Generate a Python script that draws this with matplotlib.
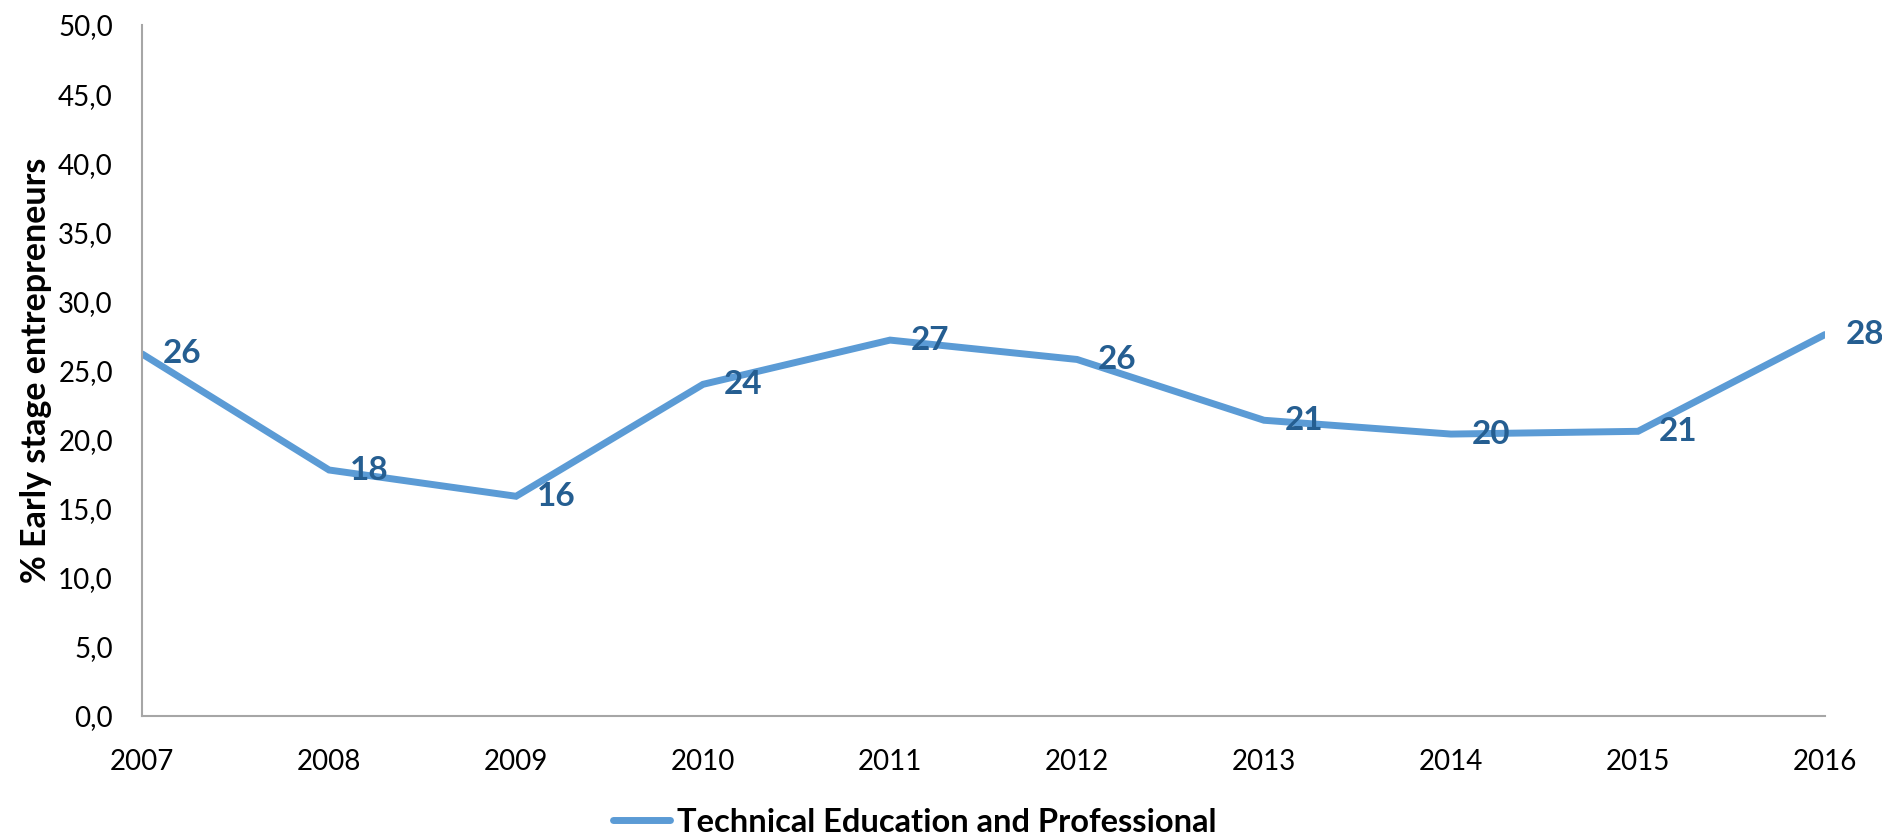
#!/usr/bin/env python3
"""Early stage entrepreneurs with technical / professional education, 2007-2016."""

import matplotlib

matplotlib.use("Agg")
import matplotlib.pyplot as plt
from matplotlib.ticker import FuncFormatter

# data
years = [2007, 2008, 2009, 2010, 2011, 2012, 2013, 2014, 2015, 2016]
share = [26.2, 17.8, 15.9, 24.0, 27.2, 25.8, 21.4, 20.4, 20.6, 27.6]
point_labels = ["26", "18", "16", "24", "27", "26", "21", "20", "21", "28"]
series_name = "Technical Education and Professional"
y_title = "% Early stage entrepreneurs"

LINE_COLOR = "#5B9BD5"
LABEL_COLOR = "#255E91"
SPINE_COLOR = "#A6A6A6"

plt.rcParams["font.family"] = ["Lato", "DejaVu Sans"]

fig = plt.figure(figsize=(18.82, 8.39), dpi=100)
ax = fig.add_axes([0.0755, 0.1466, 0.8942, 0.8236])

ax.plot(years, share, color=LINE_COLOR, linewidth=5,
        solid_joinstyle="miter", solid_capstyle="round", label=series_name)

for x, y, txt in zip(years, share, point_labels):
    ax.annotate(txt, (x, y), xytext=(15, 0), textcoords="offset points",
                ha="left", va="center", fontsize=24, fontweight="bold",
                color=LABEL_COLOR, annotation_clip=False)

ax.set_xlim(years[0], years[-1])
ax.set_ylim(0, 50)
ax.set_xticks(years)
ax.set_yticks([i * 5 for i in range(11)])
ax.yaxis.set_major_formatter(FuncFormatter(lambda v, _: f"{v:.1f}".replace(".", ",")))
ax.tick_params(axis="both", length=0, labelsize=20, colors="black")
ax.tick_params(axis="x", pad=24)
ax.tick_params(axis="y", pad=21)

for side in ("top", "right"):
    ax.spines[side].set_visible(False)
for side in ("left", "bottom"):
    ax.spines[side].set_color(SPINE_COLOR)
    ax.spines[side].set_linewidth(1.5)

fig.text(0.019, 0.5586, y_title, rotation=90, ha="center", va="center",
         fontsize=24.5, fontweight="bold")

fig.legend(loc="center", bbox_to_anchor=(0.486, 0.02), frameon=False,
           handlelength=1.75, handletextpad=0.2,
           prop={"size": 23.5, "weight": "bold"})

fig.savefig("out.png", dpi=100)
